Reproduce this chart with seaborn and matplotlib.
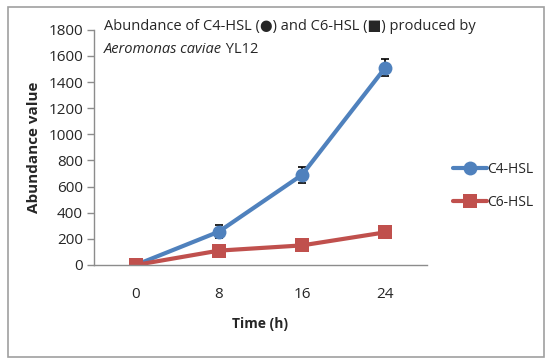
import matplotlib
matplotlib.use("Agg")
import matplotlib.pyplot as plt
import numpy as np
import pandas as pd
import seaborn as sns
from matplotlib.patches import Rectangle

time_labels = ["0", "8", "16", "24"]
c4_values = [0, 255, 690, 1510]
c4_errors = [0, 50, 60, 65]
c6_values = [0, 110, 150, 250]
series_names = ["C4-HSL", "C6-HSL"]
y_ticks = [0, 200, 400, 600, 800, 1000, 1200, 1400, 1600, 1800]

BLUE = "#4F81BD"
RED = "#C0504D"
GRAY = "#8C8C8C"

sns.set_theme(style="white")
plt.rcParams["font.family"] = ["Open Sans", "DejaVu Sans"]

pos = np.arange(len(time_labels))
df = pd.DataFrame({
    "pos": np.concatenate([pos, pos]),
    "value": c4_values + c6_values,
    "series": [series_names[0]] * len(pos) + [series_names[1]] * len(pos),
})

fig = plt.figure(figsize=(5.5, 3.64), dpi=100)
ax = fig.add_axes([0.171, 0.272, 0.605, 0.646])

sns.lineplot(data=df, x="pos", y="value", hue="series", style="series",
             markers={"C4-HSL": "o", "C6-HSL": "s"}, dashes=False,
             palette={"C4-HSL": BLUE, "C6-HSL": RED}, linewidth=3,
             markersize=10, markeredgewidth=0, ax=ax, legend=False)
ax.errorbar(pos[1:], c4_values[1:], yerr=c4_errors[1:], fmt="none",
            ecolor="black", elinewidth=1.2, capsize=3, capthick=1.2, zorder=1)

ax.set_xlim(-0.5, len(pos) - 0.5)
ax.set_ylim(0, 1800)
ax.set_yticks(y_ticks)
ax.set_yticklabels([str(v) for v in y_ticks], fontsize=11)
ax.set_xticks(pos)
ax.set_xticklabels(time_labels, fontsize=11)
ax.set_xticks(np.arange(-0.5, len(pos), 1.0), minor=True)
ax.tick_params(axis="x", which="major", length=0, pad=16)
ax.tick_params(axis="x", which="minor", length=5, width=1, color=GRAY, direction="out")
ax.tick_params(axis="y", length=5, width=1, color=GRAY, direction="out", left=True, pad=3)
for side in ["top", "right"]:
    ax.spines[side].set_visible(False)
for side in ["left", "bottom"]:
    ax.spines[side].set_color(GRAY)
    ax.spines[side].set_linewidth(1)
ax.grid(False)

ax.set_xlabel("Time (h)", fontsize=10, fontweight="bold", labelpad=11)
ax.set_ylabel("Abundance value", fontsize=11, fontweight="bold", labelpad=5)

fig.text(0.189, 0.948, "Abundance of C4-HSL (\u25cf) and C6-HSL (\u25a0) produced by",
         fontsize=10.5, va="top", ha="left")
t = fig.text(0.189, 0.885, "Aeromonas caviae", fontsize=10.5, style="italic",
             va="top", ha="left")
ax.annotate(" YL12", xy=(1, 0), xycoords=t, va="bottom", ha="left", fontsize=10.5)

handles = [
    plt.Line2D([], [], color=BLUE, lw=3, marker="o", markersize=10, markeredgewidth=0),
    plt.Line2D([], [], color=RED, lw=3, marker="s", markersize=10, markeredgewidth=0),
]
fig.legend(handles, series_names, loc="upper left", bbox_to_anchor=(0.8, 0.59),
           frameon=False, fontsize=10, handlelength=2.5, handletextpad=0.0,
           labelspacing=1.3)

fig.patches.append(Rectangle((0.0145, 0.019), 0.975, 0.962, transform=fig.transFigure,
                             fill=False, edgecolor="#A0A0A0", linewidth=1.2))

fig.savefig("out.png", dpi=100, facecolor="white")
